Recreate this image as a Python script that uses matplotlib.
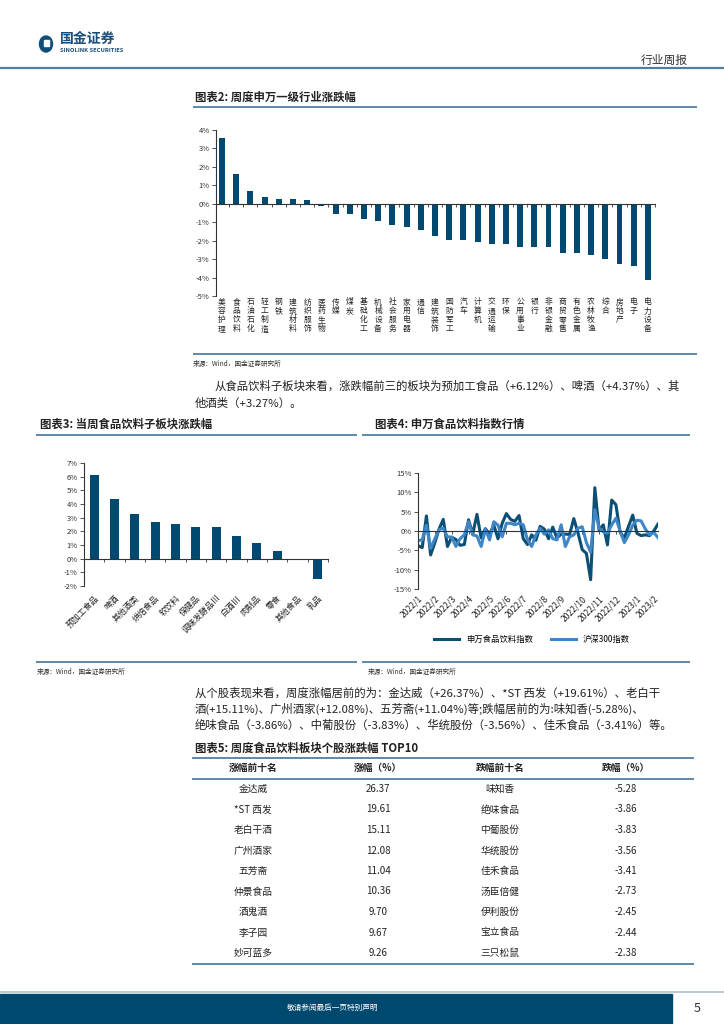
import matplotlib.pyplot as plt
import matplotlib.transforms as mtransforms
from matplotlib.patches import Rectangle, Ellipse
import numpy as np
import pandas as pd

plt.rcParams['font.family'] = ['Noto Sans CJK SC', 'DejaVu Sans']

# 图表2 申万一级行业周涨跌幅
industries = ['美容护理', '食品饮料', '石油石化', '轻工制造', '钢铁', '建筑材料', '纺织服饰',
              '医药生物', '传媒', '煤炭', '基础化工', '机械设备', '社会服务', '家用电器',
              '通信', '建筑装饰', '国防军工', '汽车', '计算机', '交通运输', '环保',
              '公用事业', '银行', '非银金融', '商贸零售', '有色金属', '农林牧渔', '综合',
              '房地产', '电子', '电力设备']
ind_chg = [3.56, 1.64, 0.69, 0.38, 0.27, 0.25, 0.20, -0.13, -0.53, -0.56, -0.80, -0.96,
           -1.15, -1.24, -1.42, -1.73, -1.95, -1.98, -2.07, -2.16, -2.16, -2.33, -2.33,
           -2.36, -2.65, -2.67, -2.80, -2.98, -3.24, -3.36, -4.15]

# 图表3 食品饮料子板块
sub_names = ['预加工食品', '啤酒', '其他酒类', '烘焙食品', '软饮料', '保健品', '调味发酵品Ⅲ',
             '白酒Ⅲ', '肉制品', '零食', '其他食品', '乳品']
sub_chg = [6.12, 4.37, 3.27, 2.67, 2.57, 2.33, 2.30, 1.66, 1.11, 0.57, 0.0, -1.46]

# 图表4 周涨跌幅
weeks = pd.date_range('2022-01-07', periods=58, freq='W-FRI')
sw_food = [-3.8, -4.3, 3.9, -6.2, -3.0, 0.5, 3.0, -4.0, -1.6, -2.2, -3.7, -3.5, 2.9, -0.8,
           4.3, -1.8, 0.6, -0.8, 1.5, -2.0, 2.0, 4.5, 3.0, 2.5, 4.0, -2.0, -3.5, -1.0,
           -2.4, 1.2, 0.5, -2.0, 1.0, -1.8, -0.8, -0.8, -0.9, 3.2, -0.5, -4.8, -5.8,
           -12.6, 11.2, 0.2, 1.6, -3.6, 8.0, 6.8, -0.3, -1.8, 1.2, 4.1, -0.6, -1.2,
           -1.0, -1.2, 0.0, 1.8]
hs300 = [-2.5, -2.3, 1.5, -4.5, -2.0, 0.4, 0.7, -1.5, -1.6, -4.0, -2.0, -1.0, 2.4, -1.0,
         -1.3, -4.0, 0.4, -2.3, 2.4, 1.5, -1.5, 2.0, 2.0, 1.6, 2.0, 1.6, -2.3, -4.0,
         -1.0, 0.7, -0.8, 0.3, -2.0, -2.3, 1.6, -4.0, -1.5, -1.0, 0.7, 1.1, -3.0,
         -5.5, 5.5, 0.7, -0.2, -0.6, 1.6, 3.3, 0.0, -3.0, -1.0, 1.5, 2.8, 2.6, 0.5,
         -1.0, -0.4, -1.7]

# 图表5 个股
top_names = ['金达威', '*ST 西发', '老白干酒', '广州酒家', '五芳斋', '仲景食品', '酒鬼酒', '李子园', '妙可蓝多']
top_chg = [26.37, 19.61, 15.11, 12.08, 11.04, 10.36, 9.70, 9.67, 9.26]
bot_names = ['味知香', '绝味食品', '中葡股份', '华统股份', '佳禾食品', '汤臣倍健', '伊利股份', '宝立食品', '三只松鼠']
bot_chg = [-5.28, -3.86, -3.83, -3.56, -3.41, -2.73, -2.45, -2.44, -2.38]

W, H = 724, 1024
bar_c = '#004a72'
rule_c = '#4f7fa0'
txt_c = '#222222'

fig = plt.figure(figsize=(7.24, 10.24), dpi=100)
page = fig.add_axes([0, 0, 1, 1])
page.set_xlim(0, W)
page.set_ylim(H, 0)
page.axis('off')


def axes_px(l, t, r, b):
    a = fig.add_axes([l / W, 1 - b / H, (r - l) / W, (b - t) / H])
    a.patch.set_visible(False)
    return a


def rule(x0, x1, y, lw=1.3, c=rule_c):
    page.plot([x0, x1], [y, y], color=c, lw=lw, solid_capstyle='butt')


def style_axes(a):
    for s in ['top', 'right']:
        a.spines[s].set_visible(False)
    a.spines['bottom'].set_position(('data', 0))
    for s in ['left', 'bottom']:
        a.spines[s].set_color('#333333')
        a.spines[s].set_linewidth(0.8)
    a.tick_params(axis='y', labelsize=5.5, length=3, width=0.6, pad=1.5, colors='#333333')
    a.tick_params(axis='x', length=2, width=0.6, colors='#333333')


# header
page.add_patch(Ellipse((46, 44), 13, 16, color='#0f4d7a'))
page.add_patch(Rectangle((43.5, 40), 5, 6, color='white'))
page.text(60, 39, '国金证券', fontsize=10, fontweight='bold', color='#1a4e7a', va='center')
page.text(60, 50, 'SINOLINK SECURITIES', fontsize=4.2, fontweight='bold', color='#1a4e7a', va='center')
page.text(688, 60, '行业周报', fontsize=8.5, color='#333333', ha='right', va='center')
rule(0, W, 68, lw=1.6)

# chart 2
page.text(195, 97, '图表2: 周度申万一级行业涨跌幅', fontsize=8.2, fontweight='bold', color=txt_c, va='center')
rule(193, 697, 107)
ax2 = axes_px(216, 130, 655, 296)
x2 = np.arange(len(industries))
ax2.bar(x2, ind_chg, width=0.42, color=bar_c)
ax2.set_xlim(-0.42, len(industries) - 0.5)
ax2.set_ylim(-5, 4)
ax2.set_yticks(range(-5, 5))
ax2.set_yticklabels([f'{v}%' for v in range(-5, 5)])
ax2.set_xticks(x2 + 0.5)
ax2.set_xticklabels([])
style_axes(ax2)
tr2 = mtransforms.blended_transform_factory(ax2.transData, ax2.transAxes)
for i, n in enumerate(industries):
    ax2.text(i, -0.015, '\n'.join(n), transform=tr2, ha='center', va='top',
             fontsize=5.6, linespacing=1.15, color=txt_c)
rule(193, 697, 354)
page.text(193, 364, '来源：Wind，国金证券研究所', fontsize=4.8, color='#333333', va='center')

page.text(215, 386, '从食品饮料子板块来看，涨跌幅前三的板块为预加工食品（+6.12%）、啤酒（+4.37%）、其',
          fontsize=8.2, color=txt_c, va='center')
page.text(195, 403, '他酒类（+3.27%）。', fontsize=8.2, color=txt_c, va='center')

# chart 3
page.text(40, 424, '图表3: 当周食品饮料子板块涨跌幅', fontsize=8.2, fontweight='bold', color=txt_c, va='center')
rule(36, 357, 435)
ax3 = axes_px(84, 463, 328, 586)
x3 = np.arange(len(sub_names))
ax3.bar(x3, sub_chg, width=0.45, color=bar_c)
ax3.set_xlim(-0.5, len(sub_names) - 0.5)
ax3.set_ylim(-2, 7)
ax3.set_yticks(range(-2, 8))
ax3.set_yticklabels([f'{v}%' for v in range(-2, 8)])
ax3.set_xticks(x3 + 0.5)
ax3.set_xticklabels([])
style_axes(ax3)
tr3 = mtransforms.blended_transform_factory(ax3.transData, ax3.transAxes)
for i, n in enumerate(sub_names):
    ax3.text(i, -0.06, n, transform=tr3, rotation=45, rotation_mode='anchor',
             ha='right', va='top', fontsize=6, color=txt_c)
rule(36, 357, 662)
page.text(37, 672, '来源：Wind，国金证券研究所', fontsize=4.8, color='#333333', va='center')

# chart 4
page.text(375, 424, '图表4: 申万食品饮料指数行情', fontsize=8.2, fontweight='bold', color=txt_c, va='center')
rule(362, 690, 435)
ax4 = axes_px(418, 473, 658, 589)
ax4.plot(weeks, sw_food, color='#0b4f75', lw=2.2, label='申万食品饮料指数')
ax4.plot(weeks, hs300, color='#3f86c6', lw=2.2, label='沪深300指数')
ax4.set_xlim(weeks[0], weeks[-1])
ax4.set_ylim(-15, 15)
ax4.set_yticks(range(-15, 16, 5))
ax4.set_yticklabels([f'{v}%' for v in range(-15, 16, 5)])
month_ticks = [weeks[weeks.to_period('M') == p][0] for p in weeks.to_period('M').unique()]
ax4.set_xticks(month_ticks)
ax4.set_xticklabels([])
style_axes(ax4)
tr4 = mtransforms.blended_transform_factory(ax4.transData, ax4.transAxes)
for d in month_ticks:
    ax4.text(d, -0.045, f'{d.year}/{d.month}', transform=tr4, rotation=45, rotation_mode='anchor',
             ha='right', va='top', fontsize=6.2, color=txt_c)
ax4.legend(loc='center', bbox_to_anchor=(532 / W, 1 - 639 / H), bbox_transform=fig.transFigure,
           ncol=2, frameon=False, fontsize=6, handlelength=3, columnspacing=2.2)
rule(362, 690, 662)
page.text(368, 672, '来源：Wind，国金证券研究所', fontsize=4.8, color='#333333', va='center')

# paragraph 2
page.text(195, 693, '从个股表现来看，周度涨幅居前的为：金达威（+26.37%）、*ST 西发（+19.61%）、老白干',
          fontsize=8.2, color=txt_c, va='center')
page.text(195, 709, '酒(+15.11%)、广州酒家(+12.08%)、五芳斋(+11.04%)等;跌幅居前的为:味知香(-5.28%)、',
          fontsize=8.2, color=txt_c, va='center')
page.text(195, 725, '绝味食品（-3.86%）、中葡股份（-3.83%）、华统股份（-3.56%）、佳禾食品（-3.41%）等。',
          fontsize=8.2, color=txt_c, va='center')

# table
page.text(195, 748, '图表5: 周度食品饮料板块个股涨跌幅 TOP10', fontsize=8.2, fontweight='bold', color=txt_c, va='center')
rule(192, 694, 758)
cols = [253, 378, 500, 626]
for cx, h in zip(cols, ['涨幅前十名', '涨幅（%）', '跌幅前十名', '跌幅（%）']):
    page.text(cx, 768, h, fontsize=7, fontweight='bold', color=txt_c, ha='center', va='center')
rule(192, 694, 779)
for k in range(len(top_names)):
    y = 789 + k * 20.5
    page.text(cols[0], y, top_names[k], fontsize=7, color=txt_c, ha='center', va='center')
    page.text(cols[1], y, f'{top_chg[k]:.2f}', fontsize=7, color=txt_c, ha='center', va='center')
    page.text(cols[2], y, bot_names[k], fontsize=7, color=txt_c, ha='center', va='center')
    page.text(cols[3], y, f'{bot_chg[k]:.2f}', fontsize=7, color=txt_c, ha='center', va='center')
rule(192, 694, 964)

# footer
rule(0, W, 991.5, lw=1.2, c='#a9c3d6')
page.add_patch(Rectangle((0, 994), 672, 30, color='#00496e'))
page.text(333, 1008, '敬请参阅最后一页特别声明', fontsize=5.5, color='white', ha='center', va='center')
page.text(697, 1008, '5', fontsize=9, color='#333333', ha='center', va='center')

fig.savefig('out.png', dpi=100)
